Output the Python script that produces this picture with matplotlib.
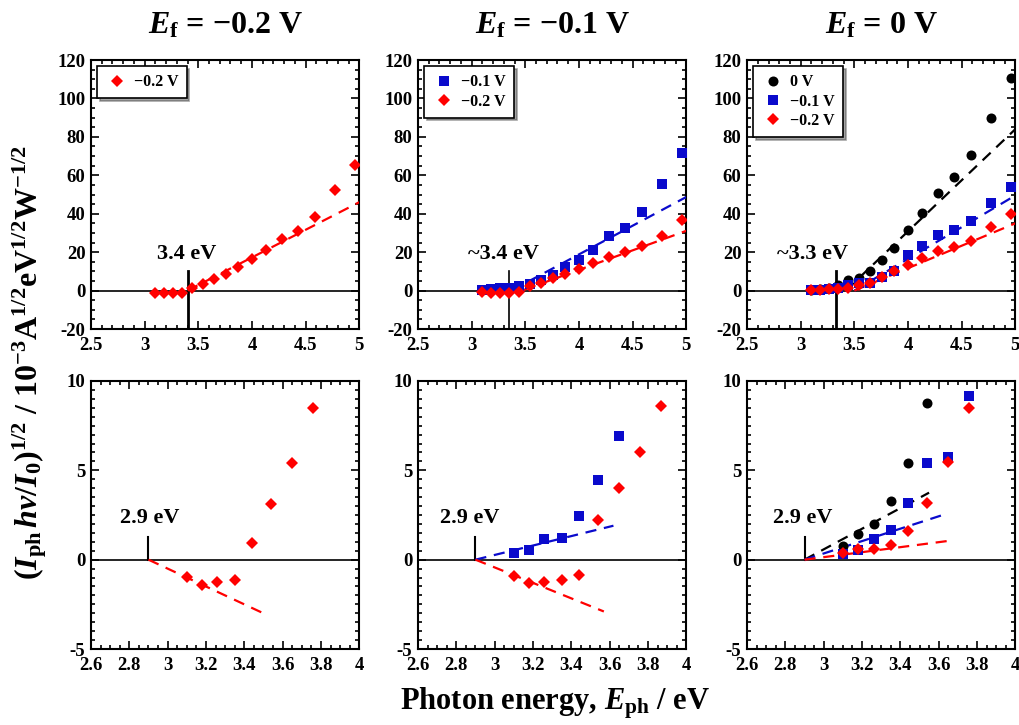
import matplotlib
matplotlib.use('Agg')
import matplotlib.pyplot as plt
from matplotlib.ticker import MultipleLocator, FormatStrFormatter

plt.rcParams['font.family'] = ['Liberation Serif', 'DejaVu Serif']
plt.rcParams['font.weight'] = 'bold'
plt.rcParams['mathtext.fontset'] = 'custom'
plt.rcParams['mathtext.rm'] = 'Liberation Serif:bold'
plt.rcParams['mathtext.it'] = 'Liberation Serif:italic:bold'
plt.rcParams['mathtext.bf'] = 'Liberation Serif:bold'
plt.rcParams['axes.unicode_minus'] = False

# photon energies (eV)
energy = [3.10, 3.18, 3.26, 3.35, 3.44, 3.54, 3.65, 3.76, 3.87, 4.00, 4.13, 4.28, 4.43, 4.59, 4.77, 4.96]

# top row: full range
top_m02_a = [-1.0, -1.3, -1.3, -1.2, 1.5, 3.4, 5.9, 8.5, 12.3, 16.2, 20.9, 26.8, 31.1, 38.4, 52.4, 65.5]
top_m01_blue = [0.3, 0.6, 1.1, 1.3, 2.4, 3.4, 5.4, 8.3, 12.1, 16.0, 21.1, 28.2, 32.8, 40.9, 55.5, 71.4]
top_m01_red = [-0.8, -1.2, -1.2, -1.0, -0.9, 2.6, 4.2, 6.5, 8.6, 11.2, 14.1, 17.5, 20.3, 23.4, 28.6, 36.5]
top_0_black = [0.3, 1.0, 1.6, 3.0, 5.3, 6.5, 10.4, 15.9, 22.3, 31.3, 40.3, 50.7, 59.3, 70.4, 89.7, 110.8]
top_0_blue = [0.2, 0.5, 1.0, 1.6, 3.0, 4.1, 3.8, 7.0, 10.2, 18.4, 23.2, 28.7, 31.7, 36.2, 45.6, 53.9]
top_0_red = [0.3, 0.5, 0.6, 0.8, 1.5, 2.7, 3.9, 7.2, 10.0, 13.5, 17.1, 20.6, 22.8, 25.8, 33.0, 39.6]

# bottom row: low-signal region
bot_m02_a = [-0.98, -1.43, -1.26, -1.16, 0.95, 3.1, 5.4, 8.5]
bot_m01_blue = [0.35, 0.54, 1.14, 1.23, 2.45, 4.45, 6.9]
bot_m01_red = [-0.92, -1.29, -1.26, -1.16, -0.83, 2.2, 4.0, 6.0, 8.6]
bot_0_black = [0.75, 1.41, 1.97, 3.28, 5.4, 8.75]
bot_0_blue = [0.34, 0.56, 1.17, 1.68, 3.17, 5.4, 5.77, 9.15]
bot_0_red = [0.39, 0.6, 0.6, 0.84, 1.58, 3.17, 5.46, 8.5]

# linear fits (endpoints)
fit_top = {
    0: [([3.40, 5.00], [0, 46.0], 'red')],
    1: [([3.37, 5.00], [0, 48.7], 'blue'), ([3.47, 5.00], [0, 31.1], 'red')],
    2: [([3.42, 5.00], [0, 84.0], 'black'), ([3.50, 5.00], [0, 49.5], 'blue'), ([3.50, 5.00], [0, 35.0], 'red')],
}
fit_bot = {
    0: [([2.90, 3.51], [0, -3.05], 'red')],
    1: [([2.90, 3.62], [0, 1.9], 'blue'), ([2.90, 3.57], [0, -2.9], 'red')],
    2: [([2.90, 3.55], [0, 3.75], 'black'), ([2.90, 3.65], [0, 2.6], 'blue'), ([2.90, 3.65], [0, 1.05], 'red')],
}

titles = ['\u22120.2 V', '\u22120.1 V', '0 V']
onset_top = [3.40, 3.345, 3.33]
onset_top_lw = [2.0, 1.2, 2.0]
onset_top_text = ['3.4 eV', '~3.4 eV', '~3.3 eV']
onset_top_text_x = [3.39, 3.30, 3.11]
onset_bot = 2.90
onset_bot_text_x = [2.905, 2.87, 2.89]

colors = {'black': 'black', 'blue': '#0a0acc', 'red': '#ff0000'}
styles = {'black': dict(marker='o', ms=7.2), 'blue': dict(marker='s', ms=7.4), 'red': dict(marker='D', ms=5.8)}
labels = {'black': '0 V', 'blue': '\u22120.1 V', 'red': '\u22120.2 V'}

top_series = [
    [('red', top_m02_a)],
    [('blue', top_m01_blue), ('red', top_m01_red)],
    [('black', top_0_black), ('blue', top_0_blue), ('red', top_0_red)],
]
bot_series = [
    [('red', bot_m02_a)],
    [('blue', bot_m01_blue), ('red', bot_m01_red)],
    [('black', bot_0_black), ('blue', bot_0_blue), ('red', bot_0_red)],
]

fig = plt.figure(figsize=(10.2, 7.25), dpi=100)
lefts = [0.0892, 0.4098, 0.7324]
width = 0.263


def style_axes(ax, xmaj, xmin, ymaj, ymin):
    ax.xaxis.set_major_locator(MultipleLocator(xmaj))
    ax.xaxis.set_minor_locator(MultipleLocator(xmin))
    ax.yaxis.set_major_locator(MultipleLocator(ymaj))
    ax.yaxis.set_minor_locator(MultipleLocator(ymin))
    ax.xaxis.set_major_formatter(FormatStrFormatter('%g'))
    ax.yaxis.set_major_formatter(FormatStrFormatter('%g'))
    ax.tick_params(which='both', direction='in', top=True, right=True, width=1.2, labelsize=13.5)
    ax.tick_params(which='major', length=6)
    ax.tick_params(which='minor', length=3)
    ax.tick_params(axis='x', pad=6)
    ax.tick_params(axis='y', pad=4)
    for s in ax.spines.values():
        s.set_linewidth(1.5)
    for lab in ax.get_xticklabels() + ax.get_yticklabels():
        lab.set_fontweight('bold')


for i in range(3):
    ax = fig.add_axes([lefts[i], 0.5462, width, 0.371])
    ax.axhline(0, color='black', lw=1.2, zorder=1)
    ax.plot([onset_top[i], onset_top[i]], [-20, 10], color='black', lw=onset_top_lw[i], zorder=2)
    ax.text(onset_top_text_x[i], 14, onset_top_text[i], ha='center', va='bottom', fontsize=16, fontweight='bold')
    for xs, ys, c in fit_top[i]:
        ax.plot(xs, ys, '--', color=colors[c], lw=1.6, dashes=(5, 3.5), zorder=3)
    for c, vals in top_series[i]:
        ax.plot(energy[:len(vals)], vals, ls='none', color=colors[c], mew=0,
                label=labels[c], zorder=4, **styles[c])
    ax.set_xlim(2.5, 5)
    ax.set_ylim(-20, 120)
    style_axes(ax, 0.5, 0.1, 20, 5)
    leg = ax.legend(loc='upper left', frameon=True, fancybox=False, shadow=True,
                    prop={'size': 11.5, 'weight': 'bold'}, handletextpad=0.4,
                    borderaxespad=0.4, labelspacing=0.2, handlelength=1.4, borderpad=0.5)
    leg.get_frame().set_edgecolor('black')
    leg.get_frame().set_linewidth(1.2)
    fig.text(lefts[i] + width / 2, 0.965, r'$E_\mathrm{f}$ = ' + titles[i],
             ha='center', va='center', fontsize=23, fontweight='bold')

for i in range(3):
    ax = fig.add_axes([lefts[i], 0.1048, width, 0.3697])
    ax.axhline(0, color='black', lw=1.2, zorder=1)
    ax.plot([onset_bot, onset_bot], [0, 1.25], color='black', lw=1.5, zorder=2)
    ax.text(onset_bot_text_x[i], 1.8, '2.9 eV', ha='center', va='bottom', fontsize=16, fontweight='bold')
    for xs, ys, c in fit_bot[i]:
        ax.plot(xs, ys, '--', color=colors[c], lw=1.6, dashes=(5, 3.5), zorder=3)
    for c, vals in bot_series[i]:
        ax.plot(energy[:len(vals)], vals, ls='none', color=colors[c], mew=0, zorder=4, **styles[c])
    ax.set_xlim(2.6, 4.0)
    ax.set_ylim(-5, 10)
    style_axes(ax, 0.2, 0.05, 5, 0.5)

fig.text(0.029, 0.5,
         r'$(I_\mathrm{ph}\,h\nu/I_0)^{1/2}$ / 10$^{-3}$A$^{1/2}$eV$^{1/2}$W$^{-1/2}$',
         rotation=90, ha='center', va='center', fontsize=23, fontweight='bold')
fig.text(0.544, 0.030, r'Photon energy, $E_\mathrm{ph}$ / eV',
         ha='center', va='center', fontsize=22, fontweight='bold')

fig.savefig('out.png', dpi=100)
